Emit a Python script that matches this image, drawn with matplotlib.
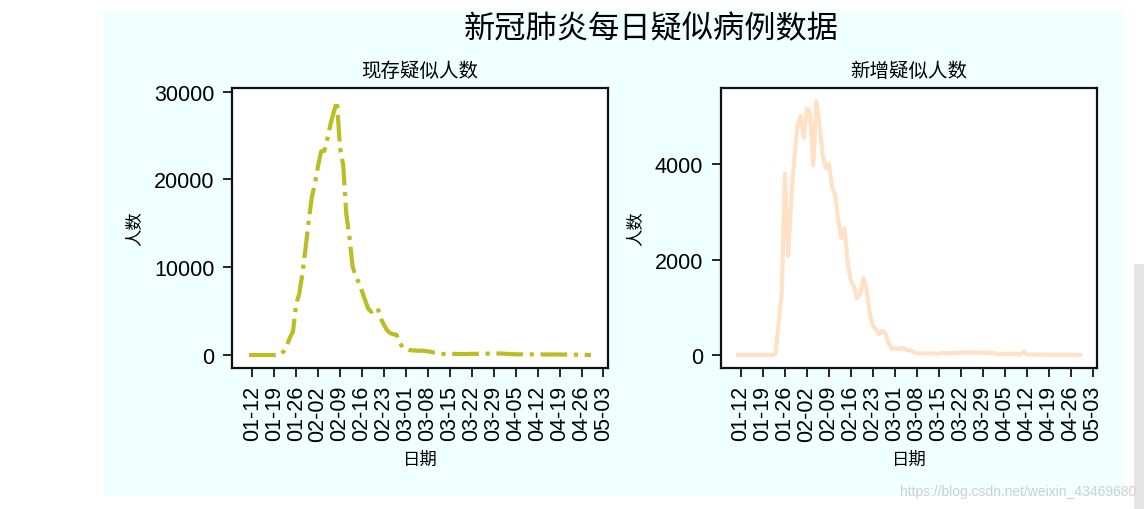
import matplotlib
matplotlib.use("Agg")
import matplotlib.pyplot as plt
import matplotlib.dates as mdates
from matplotlib.patches import Rectangle
import pandas as pd

plt.rcParams['font.family'] = ['Noto Sans CJK SC', 'DejaVu Sans']

# ---------------- data ----------------
start_date = "2020-01-11"
end_date = "2020-04-29"

# 现存疑似人数 (existing suspected cases)
existing_suspected = (
    [0] * 9 +
    [54, 37, 393, 1072, 1965, 2684, 5794, 6973, 9239, 12167, 15238, 17988] +
    [19544, 21558, 23214, 23260, 24702, 26359, 27657, 28942, 23589, 21675,
     16067, 13435, 10109, 8969, 8228, 7264, 6242, 5248, 4922, 5206, 5365,
     4148, 3434, 2824, 2491, 2358, 2308, 1418, 851] +
    [715, 587, 520, 522, 482, 502, 458, 421, 349, 285, 253, 147, 115, 113,
     134, 128, 119, 105, 104, 106, 118, 136, 132, 134, 153, 159, 151, 184,
     174, 168, 172] +
    [153, 135, 99, 88, 85, 73, 83, 72, 82, 72, 72, 84, 74, 59, 56, 64, 62,
     50, 59, 47, 57, 47, 40, 30, 32, 33, 30, 9, 9]
)

# 新增疑似人数 (new suspected cases)
new_suspected = (
    [0] * 12 + [30] +
    [680, 1309, 3806, 2077, 3248, 4148, 4812, 5019] +
    [4562, 5173, 5072, 3971, 5328, 4833, 4214, 3916, 4008, 3536, 3342, 2807,
     2450, 2650, 1918, 1563, 1432, 1185, 1277, 1614, 1361, 882, 620, 530,
     439, 508, 452, 248, 132] +
    [141, 129, 143, 143, 102, 99, 60, 36, 35, 31, 33, 33, 39, 17, 29, 45, 44,
     29, 41, 39, 50, 47, 55, 49, 58, 46, 54, 51, 42, 49, 37] +
    [35, 40, 20, 25, 27, 30, 22, 25, 20, 12, 75, 10, 8, 10, 6, 5, 3, 7, 4, 2,
     6, 3, 5, 2, 4, 1, 3, 0, 2]
)

left_yticks = [0, 10000, 20000, 30000]
right_yticks = [0, 2000, 4000]

suptitle_text = "新冠肺炎每日疑似病例数据"
left_title = "现存疑似人数"
right_title = "新增疑似人数"
ylabel_text = "人数"
xlabel_text = "日期"
watermark = "https://blog.csdn.net/weixin_43469680"

dates = pd.date_range(start_date, end_date, freq="D")

# ---------------- figure ----------------
W, H = 1144, 510
fig = plt.figure(figsize=(W / 100, H / 100), dpi=100, facecolor="white")

# light cyan figure area of the screenshot
fig.patches.append(Rectangle((104 / W, 1 - 497 / H), 1018 / W, 485 / H,
                             transform=fig.transFigure, facecolor="#F0FFFF",
                             edgecolor="none", zorder=-10))
# scrollbar-ish gray strip on the right
fig.patches.append(Rectangle((1134 / W, 0), 10 / W, 1 - 265 / H,
                             transform=fig.transFigure, facecolor="#E6E6E6",
                             edgecolor="none", zorder=-10))

ax1 = fig.add_axes([232 / W, 1 - 368.7 / H, 376 / W, 279.4 / H])
ax2 = fig.add_axes([720.7 / W, 1 - 368.7 / H, 376.6 / W, 279.4 / H])

ax1.plot(dates, existing_suspected, color="#bcbd22", linestyle="-.", linewidth=3.0)
ax2.plot(dates, new_suspected, color="#FFE2C6", linestyle="-", linewidth=3.0)

ax1.set_yticks(left_yticks)
ax2.set_yticks(right_yticks)

tick_font = ['Liberation Sans', 'DejaVu Sans']
for ax, title in ((ax1, left_title), (ax2, right_title)):
    ax.set_facecolor("white")
    ax.xaxis.set_major_locator(mdates.WeekdayLocator(byweekday=mdates.SU))
    ax.xaxis.set_major_formatter(mdates.DateFormatter("%m-%d"))
    ax.tick_params(axis="both", length=6.5, width=1.2, color="black",
                   labelsize=15.5, pad=6)
    for lab in ax.get_xticklabels() + ax.get_yticklabels():
        lab.set_family(tick_font)
    for lab in ax.get_xticklabels():
        lab.set_rotation(90)
    for sp in ax.spines.values():
        sp.set_linewidth(1.6)
        sp.set_color("#111111")
    ax.set_title(title, fontsize=14, pad=9)
    ax.set_ylabel(ylabel_text, fontsize=12.5, labelpad=7)
    ax.set_xlabel(xlabel_text, fontsize=12.5, labelpad=7)

fig.suptitle(suptitle_text, x=651 / W, y=1 - 29 / H, va="center", fontsize=22.5)

fig.text(1136 / W, 1 - 492 / H, watermark, ha="right", va="center",
         fontsize=10, color="#D0D0D0", family=['Liberation Sans', 'DejaVu Sans'])

fig.savefig("out.png", dpi=100, facecolor=fig.get_facecolor())
